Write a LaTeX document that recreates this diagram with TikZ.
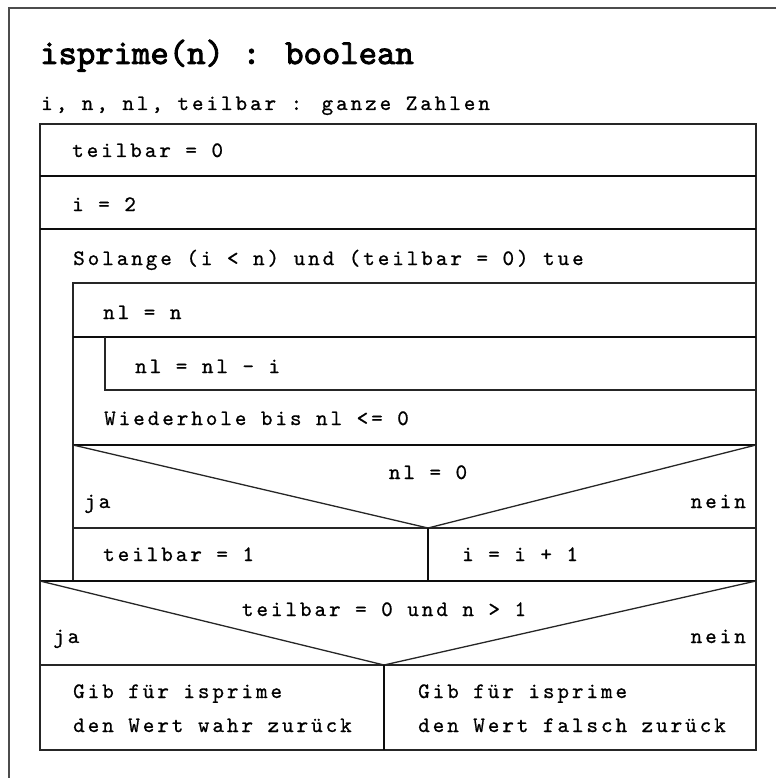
\documentclass[tikz,border=0pt]{standalone}
\usepackage{fontspec}
\newfontfamily\titlefont{lmmono10-regular.otf}[FakeBold=2.5]
\newfontfamily\bodyfont{lmmono10-regular.otf}[LetterSpace=13.5,FakeBold=0.8]
\begin{document}
\begin{tikzpicture}[x=1pt,y=-1pt,
  framelin/.style={line width=2.2pt, draw=black!70},
  thinln/.style={line width=1.3pt, draw=black!85},
  thickln/.style={line width=2.8pt, draw=black!95},
  txt/.style={inner sep=0pt, anchor=base west, font=\bodyfont\fontsize{22}{26}\selectfont},
  rtxt/.style={txt, anchor=base east},
  ctxt/.style={txt, anchor=base}]
\useasboundingbox (0,0) rectangle (776,778);
% outer frame
\draw[framelin] (776,8) -- (9,8) -- (9,778);
% main box
\draw[thinln] (40,124) rectangle (756,750);
\draw[thickln] (40,176) -- (756,176);
\draw[thickln] (40,229) -- (756,229);
% loop body
\draw[thinln] (756,283) -- (73,283) -- (73,581);
\draw[thickln] (73,337) -- (756,337);
% repeat-until inner
\draw[thinln] (105,337) -- (105,390) -- (756,390);
\draw[thickln] (73,445) -- (756,445);
% decision nl = 0
\coordinate (d1l) at (73,445);
\coordinate (d1m) at (428,528);
\coordinate (d1r) at (756,445);
\draw[thinln] (d1l) -- (d1m) -- (d1r);
\draw[thinln] (73,528) -- (756,528);
\draw[thickln] (d1m) -- (428,581);
\draw[thickln] (40,581) -- (756,581);
% decision teilbar
\coordinate (d2l) at (40,581);
\coordinate (d2m) at (384,665);
\coordinate (d2r) at (756,581);
\draw[thinln] (d2l) -- (d2m) -- (d2r);
\draw[thinln] (40,665) -- (756,665);
\draw[thickln] (d2m) -- (384,750);
% texts
\node[inner sep=0pt, anchor=base west, font=\titlefont\fontsize{35}{40}\selectfont] (title) at (40,64) {isprime(n) : boolean};
\node[txt] (decl) at (41,110) {i, n, nl, teilbar : ganze Zahlen};
\node[txt] (s1) at (72,157) {teilbar = 0};
\node[txt] (s2) at (72,211) {i = 2};
\node[txt] (loop) at (73,265) {Solange (i < n) und (teilbar = 0) tue};
\node[txt] (s3) at (103,319) {nl = n};
\node[txt] (s4) at (135,373) {nl = nl - i};
\node[txt] (rep) at (104,425) {Wiederhole bis nl <= 0};
\node[ctxt] (c1) at (428,479) {nl = 0};
\node[txt] (ja1) at (84,508) {ja};
\node[rtxt] (nein1) at (746,508) {nein};
\node[txt] (s5) at (103,561) {teilbar = 1};
\node[txt] (s6) at (462,561) {i = i + 1};
\node[ctxt] (c2) at (384,616) {teilbar = 0 und n > 1};
\node[txt] (ja2) at (53,643) {ja};
\node[rtxt] (nein2) at (746,643) {nein};
\node[txt] (r1a) at (73,698) {Gib für isprime};
\node[txt] (r1b) at (73,732) {den Wert wahr zurück};
\node[txt] (r2a) at (418,698) {Gib für isprime};
\node[txt] (r2b) at (418,732) {den Wert falsch zurück};
\end{tikzpicture}
\end{document}
